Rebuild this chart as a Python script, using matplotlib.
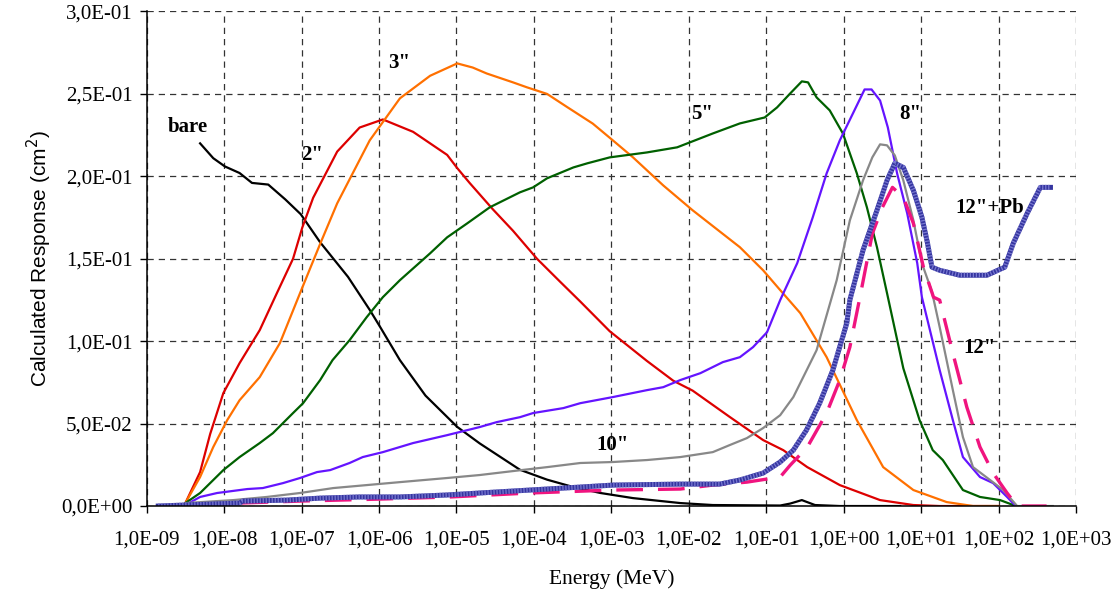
import numpy as np
import matplotlib.pyplot as plt
from matplotlib.ticker import FixedLocator, FuncFormatter, NullLocator

# energies are stored as log10(E / MeV), responses in cm^2
bare_loge = [-8.31, -8.14, -7.99, -7.80, -7.64, -7.43, -7.21, -7.01, -6.76, -6.40, -6.12,
             -5.99, -5.73, -5.40, -4.99, -4.70, -4.18, -3.83, -3.49, -3.14, -2.72, -2.11,
             -1.69, -0.82, -0.69, -0.54, -0.37, -0.05, 0.73]
bare_resp = [0.220, 0.211, 0.206, 0.202, 0.196, 0.195, 0.186, 0.177, 0.160, 0.139, 0.119,
             0.109, 0.0885, 0.067, 0.048, 0.038, 0.022, 0.016, 0.0115, 0.0079, 0.0048, 0.0018,
             0.0006, 0.0003, 0.0015, 0.0036, 0.0006, 0.0, 0.0]

r2_loge = [-8.50, -8.31, -8.18, -8.01, -7.80, -7.54, -7.32, -7.11, -6.99, -6.85, -6.54,
           -6.25, -5.95, -5.56, -5.34, -5.12, -4.99, -4.83, -4.53, -4.27, -3.96, -3.66,
           -3.40, -3.02, -2.54, -2.20, -1.95, -1.47, -1.04, -0.78, -0.47, -0.05, 0.47,
           0.90, 1.24, 2.0]
r2_resp = [0.0018, 0.0206, 0.0437, 0.0685, 0.0867, 0.1067, 0.129, 0.150, 0.169, 0.187, 0.215,
           0.2296, 0.2345, 0.227, 0.220, 0.213, 0.205, 0.196, 0.180, 0.167, 0.150, 0.136,
           0.124, 0.106, 0.088, 0.076, 0.070, 0.054, 0.040, 0.0339, 0.0236, 0.0127, 0.0036,
           0.0006, 0.0, 0.0]

r3_loge = [-8.50, -8.31, -8.14, -7.96, -7.80, -7.54, -7.28, -7.02, -6.76, -6.54, -6.12,
           -5.73, -5.34, -4.99, -4.79, -4.61, -4.27, -4.09, -3.83, -3.57, -3.24, -2.98,
           -2.72, -2.33, -1.95, -1.34, -1.04, -0.82, -0.56, -0.22, 0.17, 0.51, 0.90,
           1.33, 1.67, 2.0]
r3_resp = [0.0018, 0.0176, 0.0358, 0.0521, 0.0642, 0.0782, 0.0988, 0.1291, 0.159, 0.1836, 0.2218,
           0.2473, 0.261, 0.2685, 0.266, 0.2624, 0.257, 0.254, 0.250, 0.242, 0.232, 0.2218,
           0.2115, 0.1945, 0.1794, 0.157, 0.143, 0.131, 0.117, 0.0903, 0.0521, 0.0236, 0.0097,
           0.0024, 0.0, 0.0]

r5_loge = [-8.50, -8.31, -8.01, -7.80, -7.54, -7.37, -7.11, -6.98, -6.76, -6.60, -6.38,
           -6.16, -5.95, -5.73, -5.34, -5.12, -4.86, -4.57, -4.18, -4.01, -3.83, -3.49,
           -3.31, -3.02, -2.54, -2.15, -1.69, -1.34, -1.02, -0.86, -0.69, -0.54, -0.46,
           -0.35, -0.18, -0.01, 0.17, 0.30, 0.43, 0.56, 0.77, 0.98, 1.15, 1.28, 1.54,
           1.76, 2.02, 2.19]
r5_resp = [0.0018, 0.0079, 0.0218, 0.0297, 0.0382, 0.0442, 0.0564, 0.0624, 0.0764, 0.0885, 0.1006,
           0.1145, 0.1267, 0.137, 0.1533, 0.163, 0.1715, 0.1812, 0.1903, 0.1933, 0.1988, 0.2054,
           0.2079, 0.2115, 0.2145, 0.2176, 0.226, 0.2321, 0.2357, 0.2418, 0.2503, 0.2576, 0.257,
           0.2479, 0.240, 0.226, 0.2018, 0.1812, 0.157, 0.1291, 0.0836, 0.0521, 0.0339, 0.0279, 0.0097,
           0.0055, 0.0036, 0.0006]

r8_loge = [-8.50, -8.31, -8.09, -7.70, -7.50, -7.24, -7.02, -6.80, -6.63, -6.38, -6.21,
           -5.95, -5.56, -5.12, -4.70, -4.48, -4.18, -4.01, -3.62, -3.40, -2.98, -2.54,
           -2.33, -2.11, -1.85, -1.56, -1.34, -1.17, -0.99, -0.82, -0.60, -0.40, -0.22,
           -0.05, 0.12, 0.27, 0.36, 0.47, 0.57, 0.69, 0.82, 0.95, 1.01, 1.24, 1.41,
           1.54, 1.76, 1.93, 2.11, 2.21]
r8_resp = [0.0006, 0.0055, 0.0079, 0.0103, 0.0109, 0.0139, 0.017, 0.0206, 0.0218, 0.0261, 0.0297,
           0.0327, 0.0382, 0.043, 0.0479, 0.0509, 0.0539, 0.0564, 0.0594, 0.0624, 0.0661, 0.0703,
           0.0721, 0.0764, 0.0806, 0.0873, 0.0903, 0.0964, 0.1054, 0.1249, 0.1473, 0.175, 0.2018,
           0.2218, 0.2382, 0.2527, 0.2527, 0.246, 0.2297, 0.2018, 0.1776, 0.1473, 0.1267, 0.0824, 0.0521,
           0.0297, 0.0176, 0.0139, 0.0055, 0.0006]

r10_loge = [-8.50, -7.88, -7.45, -7.02, -6.59, -6.16, -5.73, -5.12, -4.70, -4.27, -3.83,
            -3.40, -2.98, -2.54, -2.11, -1.69, -1.47, -1.25, -1.04, -0.82, -0.65, -0.35,
            -0.09, 0.08, 0.25, 0.37, 0.47, 0.56, 0.66, 0.77, 0.90, 1.01, 1.14, 1.24,
            1.41, 1.54, 1.67, 1.89, 2.06, 2.24, 2.70]
r10_resp = [0.0018, 0.0036, 0.0055, 0.0079, 0.0109, 0.0127, 0.0145, 0.017, 0.0188, 0.0212, 0.0236,
            0.0261, 0.0267, 0.0279, 0.0297, 0.0327, 0.037, 0.0412, 0.0473, 0.0551, 0.0661, 0.0945,
            0.137, 0.1733, 0.1976, 0.2115, 0.2194, 0.2188, 0.2127, 0.1976, 0.1733, 0.1473, 0.130, 0.1085,
            0.0703, 0.0418, 0.0236, 0.0158, 0.0097, 0.0, 0.0]

r12_loge = [-8.85, -8.50, -7.80, -7.02, -5.99, -5.08, -4.05, -2.98, -2.11, -1.69, -1.25,
            -0.82, -0.69, -0.47, -0.22, -0.05, 0.08, 0.21, 0.37, 0.50, 0.63, 0.77, 0.90,
            1.03, 1.16, 1.24, 1.41, 1.59, 1.76, 1.93, 2.11, 2.24, 2.62]
r12_resp = [0.0, 0.0006, 0.0018, 0.003, 0.0042, 0.0055, 0.0079, 0.0097, 0.0103, 0.0127, 0.0145,
            0.0176, 0.0248, 0.0357, 0.0564, 0.0764, 0.0964, 0.1267, 0.1652, 0.1812, 0.1933, 0.1873, 0.1715,
            0.1449, 0.1267, 0.1249, 0.0927, 0.060, 0.0358, 0.020, 0.0079, 0.0, 0.0]

r12pb_loge = [-8.85, -8.50, -7.80, -7.76, -7.19, -6.76, -6.25, -5.73, -5.12, -4.70, -4.05,
              -3.40, -2.98, -2.11, -1.60, -1.34, -1.04, -0.82, -0.65, -0.48, -0.31, -0.14,
              0.04, 0.08, 0.25, 0.43, 0.56, 0.66, 0.77, 0.90, 1.01, 1.08, 1.14, 1.24, 1.50,
              1.85, 2.08, 2.19, 2.37, 2.54, 2.67]
r12pb_resp = [0.0, 0.0006, 0.0018, 0.003, 0.0036, 0.0048, 0.0055, 0.0055, 0.0067, 0.0079, 0.0097,
              0.0115, 0.0127, 0.0133, 0.0133, 0.0158, 0.020, 0.0267, 0.0339, 0.0461, 0.0624, 0.0824,
              0.1109, 0.125, 0.1552, 0.1794, 0.1976, 0.2079, 0.2054, 0.1915, 0.1752, 0.160, 0.1449, 0.143, 0.140,
              0.140, 0.1449, 0.1594, 0.1776, 0.1933, 0.1933]

fig = plt.figure(figsize=(11.17, 5.98), dpi=100)
ax = fig.add_axes([0.1313, 0.1538, 0.8320, 0.8270])

def E(loge):
    return 10.0 ** np.asarray(loge)

ax.plot(E(bare_loge), bare_resp, color='black', lw=1.6)
ax.plot(E(r2_loge), r2_resp, color='#dd0000', lw=1.6)
ax.plot(E(r3_loge), r3_resp, color='#ff7000', lw=1.6)
ax.plot(E(r5_loge), r5_resp, color='#006000', lw=1.6)
ax.plot(E(r8_loge), r8_resp, color='#6414ff', lw=1.6)
ax.plot(E(r10_loge), r10_resp, color='#888888', lw=1.6)
ax.plot(E(r12_loge), r12_resp, color='#f0147f', lw=2.4, dashes=(8, 4.5))
ax.plot(E(r12pb_loge), r12pb_resp, color='#3535a0', lw=3.6)
ax.plot(E(r12pb_loge), r12pb_resp, color='#7878d0', lw=3.6, dashes=(0.25, 0.35))

ax.set_xscale('log')
ax.set_xlim(1e-9, 1e3)
ax.set_ylim(0, 0.3)

ax.xaxis.set_major_locator(FixedLocator([10.0 ** k for k in range(-9, 4)]))
ax.xaxis.set_minor_locator(NullLocator())
ax.xaxis.set_major_formatter(FuncFormatter(
    lambda v, p: '1,0E%+03d' % int(round(np.log10(v)))))
ax.yaxis.set_major_locator(FixedLocator(np.arange(0, 0.31, 0.05)))
ax.yaxis.set_major_formatter(FuncFormatter(
    lambda v, p: format(v, '.1E').replace('.', ',')))

for lab in ax.get_xticklabels() + ax.get_yticklabels():
    lab.set_family('Liberation Serif')
    lab.set_fontsize(15)
ax.tick_params(direction='out', length=5, width=1, color='black', pad=5)
ax.tick_params(axis='x', pad=13)

ax.grid(True, which='major', color='#333333', lw=0.9, dashes=(5, 4))
ax.set_axisbelow(True)
ax.spines['top'].set_visible(False)
ax.spines['right'].set_visible(False)
ax.spines['left'].set_linewidth(1.1)
ax.spines['bottom'].set_linewidth(1.1)

ax.set_xlabel('Energy (MeV)', family='Liberation Serif', fontsize=15.5, labelpad=14)
ax.set_ylabel('Calculated Response (cm$^2$)', family='Liberation Sans', fontsize=15, labelpad=5)

lab_kw = dict(family='Liberation Serif', fontweight='bold', fontsize=15,
              ha='center', va='center')
ax.text(10 ** -8.47, 0.2297, 'bare', **lab_kw)
ax.text(10 ** -6.86, 0.2127, '2"', **lab_kw)
ax.text(10 ** -5.74, 0.2685, '3"', **lab_kw)
ax.text(10 ** -1.83, 0.238, '5"', **lab_kw)
ax.text(10 ** 0.855, 0.238, '8"', **lab_kw)
ax.text(10 ** -2.98, 0.037, '10"', **lab_kw)
ax.text(10 ** 1.88, 0.181, '12"+Pb', **lab_kw)
ax.text(10 ** 1.76, 0.0957, '12"', **lab_kw)

fig.savefig('out.png', dpi=100)
